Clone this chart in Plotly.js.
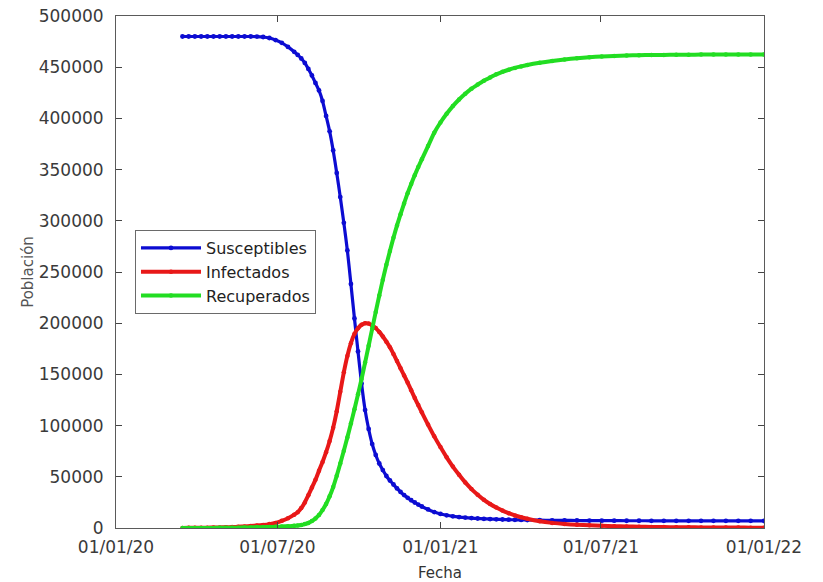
<!DOCTYPE html>
<html>
<head>
<meta charset="utf-8">
<script src="https://cdn.plot.ly/plotly-3.0.1.min.js"></script>
<style>html,body{margin:0;padding:0;background:#fff;}#chart{width:823px;height:582px;}</style>
</head>
<body>
<div id="chart"></div>
<script>
// Dates (fecha) shared by the three series
const fechas = [
 '2020-03-16','2020-03-23','2020-03-30','2020-04-06','2020-04-13','2020-04-20','2020-04-27','2020-05-04','2020-05-11','2020-05-18',
 '2020-05-25','2020-06-01','2020-06-08','2020-06-15','2020-06-22','2020-06-29','2020-07-06','2020-07-13','2020-07-20',
 '2020-07-24','2020-07-28','2020-08-01','2020-08-05','2020-08-09','2020-08-13','2020-08-17','2020-08-21','2020-08-25','2020-08-29',
 '2020-09-02','2020-09-06','2020-09-10','2020-09-14','2020-09-18','2020-09-22','2020-09-26','2020-09-30','2020-10-04','2020-10-08',
 '2020-10-12','2020-10-16','2020-10-20','2020-10-24','2020-10-28','2020-11-01','2020-11-05','2020-11-09','2020-11-13','2020-11-17',
 '2020-11-21','2020-11-25','2020-11-29','2020-12-03','2020-12-07','2020-12-11',
 '2020-12-18','2020-12-25','2021-01-01','2021-01-08','2021-01-15','2021-01-22','2021-01-29','2021-02-05','2021-02-12','2021-02-19',
 '2021-02-26','2021-03-05','2021-03-12','2021-03-19','2021-03-26','2021-04-02','2021-04-09','2021-04-23','2021-05-07','2021-05-21',
 '2021-06-04','2021-06-18','2021-07-02','2021-07-16','2021-07-30','2021-08-13','2021-08-27','2021-09-10','2021-09-24','2021-10-08',
 '2021-10-22','2021-11-05','2021-11-19','2021-12-03','2021-12-17','2022-01-01'
];

const susceptibles = [
 480000,480000,480000,480000,480000,480000,480000,480000,480000,480000,
 480000,480000,479900,479500,478500,476500,473800,469800,465000,
 462000,458500,454200,448300,441900,434600,427300,417000,402400,387400,
 368700,346700,323200,298000,271000,238300,204600,172400,141100,115200,
 96700,82000,71300,63000,56600,50800,46400,42500,38600,35200,
 32200,29500,27100,24900,22900,21000,
 18100,15600,13700,12400,11400,10700,10200,9700,9300,9000,
 8700,8500,8300,8100,8000,7900,7800,7600,7500,7400,
 7300,7250,7200,7150,7100,7100,7050,7050,7000,7000,
 7000,7000,7000,7000,7000,7000
];

const infectados = [
 100,150,200,250,350,450,600,750,950,1200,
 1500,1900,2400,3000,3800,5000,7000,9500,13000,
 15500,19500,25000,32000,39500,47000,56000,64500,74000,85000,
 98000,114000,133000,152000,168000,180500,189500,195000,198500,200000,
 199600,197800,195200,191500,187000,182000,176500,170000,163000,156000,
 149000,142000,134500,127000,120000,113000,
 101000,89500,79000,69000,60000,52000,44500,38000,32500,27500,
 23500,20000,17000,14500,12300,10500,9000,6600,5000,3900,
 3200,2700,2200,1800,1500,1250,1050,900,800,700,
 600,520,450,400,350,300
];

const recuperados = [
 0,20,40,60,90,120,160,210,270,340,
 430,550,700,850,1000,1200,1450,1750,2100,
 2500,3000,3800,5000,6800,9300,12700,17600,23400,31000,
 40000,51000,63000,75500,88500,102000,116000,130500,145500,161500,
 178000,194500,211000,227000,242500,257000,270500,283500,295500,306500,
 317000,327000,336000,344500,352500,360000,
 373000,386000,396000,404500,412000,418500,424000,429000,433000,436800,
 440000,443000,445500,447500,449300,450800,452100,454300,456100,457600,
 458800,459800,460500,461000,461400,461700,461900,462000,462100,462200,
 462300,462300,462400,462400,462400,462500
];

const nombres = ['Susceptibles','Infectados','Recuperados'];
const colores = ['#0c0cd2','#e81818','#22dd22'];
const series = [susceptibles, infectados, recuperados];

const traces = series.map((vals, i) => ({
  type: 'scatter',
  mode: 'lines+markers',
  name: nombres[i],
  legendgroup: 'g' + i,
  x: fechas,
  y: vals,
  line: {color: colores[i], width: i === 0 ? 3.2 : 4, shape: 'spline', smoothing: 0.6},
  marker: {color: colores[i], size: i === 0 ? 4.8 : 4.5}
}));

const fontFam = 'DejaVu Sans, Arial, sans-serif';

const axisCommon = {
  showline: true, linecolor: '#5a5a5a', linewidth: 1,
  mirror: 'ticks', ticks: 'inside', ticklen: 6, tickcolor: '#444',
  showgrid: false, zeroline: false,
  tickfont: {family: fontFam, size: 17, color: '#3a3a3a'}
};

const layout = {
  width: 823, height: 582,
  margin: {l: 116, r: 59, t: 16, b: 54},
  paper_bgcolor: '#fff', plot_bgcolor: '#fff',
  showlegend: true,
  legend: {
    x: 0.0293, y: 0.582, xanchor: 'left', yanchor: 'top',
    bgcolor: '#fff', bordercolor: '#6a6a6a', borderwidth: 1,
    font: {family: fontFam, size: 16, color: '#222'},
    tracegroupgap: 0, itemwidth: 60
  },
  xaxis: Object.assign({}, axisCommon, {
    type: 'date',
    range: ['2020-01-01', '2022-01-01'],
    tick0: '2020-01-01', dtick: 'M6', tickformat: '%d/%m/%y',
    ticklabelstandoff: 4,
    title: {text: 'Fecha', font: {family: fontFam, size: 15, color: '#333'}, standoff: 21}
  }),
  yaxis: Object.assign({}, axisCommon, {
    range: [0, 500000], dtick: 50000, tickformat: 'd',
    ticklabelstandoff: 8,
    title: {text: 'Población', font: {family: fontFam, size: 15, color: '#555'}}
  })
};

Plotly.newPlot('chart', traces, layout, {displayModeBar: false, staticPlot: true});
</script>
</body>
</html>
